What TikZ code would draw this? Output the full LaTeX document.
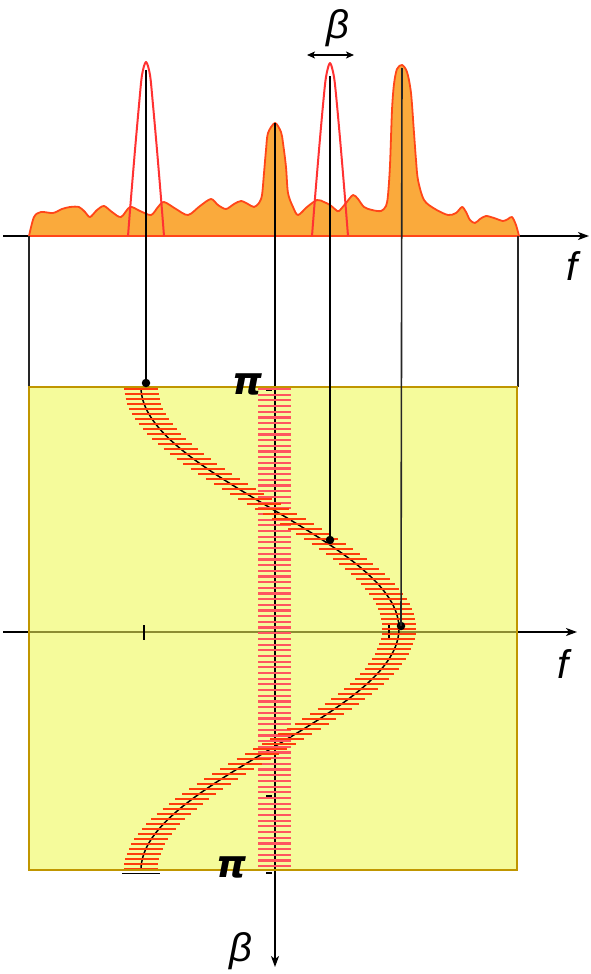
\documentclass[tikz,border=0pt]{standalone}
\usepackage{fontspec}
\setmainfont{Liberation Sans}
\newfontfamily\pifont{DejaVu Sans}
\usetikzlibrary{arrows.meta}
\definecolor{specfill}{RGB}{250,170,60}
\definecolor{specline}{RGB}{255,70,25}
\definecolor{peakred}{RGB}{255,50,50}
\definecolor{boxfill}{RGB}{245,251,155}
\definecolor{boxedge}{RGB}{192,150,0}
\definecolor{olive}{RGB}{140,140,50}
\definecolor{hatchc}{RGB}{255,60,10}
\definecolor{bandc}{RGB}{255,85,95}
\tikzset{
  axis/.style={line width=1.6pt,-{Stealth[length=11pt,width=8pt,inset=3pt]}},
  peakline/.style={line width=2.2pt,black},
  thinline/.style={line width=1.6pt,black!85},
  hatch/.style={line width=2.2pt,hatchc},
  bandhatch/.style={line width=2.2pt,bandc},
  dotst/.style={circle,fill=black,inner sep=0pt,minimum size=8.5pt},
  lbl/.style={font=\fontsize{40}{40}\selectfont\itshape,inner sep=0pt},
  pilbl/.style={font=\pifont\fontsize{38}{38}\selectfont\bfseries\itshape,inner sep=0pt},
}
\begin{document}
\begin{tikzpicture}[x=1pt,y=-1pt]
\useasboundingbox (0,0) rectangle (590,974);
% top axis
\coordinate (ta0) at (3,236);
\coordinate (ta1) at (589,236);
\draw[axis] (ta0) -- (ta1);
% spectrum
\draw[specline,line width=1.8pt,fill=specfill,line join=round]
  plot[smooth,tension=0.5] coordinates {
  (29,236)(34,217)(41,212)(53,213)(62,209)(70,207)(79,207)(85,212)(90,217)(97,210)(104,206)(112,212)(121,217)(130,207)(140,211)(151,215)(158,207)(164,202)(176,209)(188,215)(200,206)(211,199)(218,205)(226,209)(234,204)(241,201)(248,204)(254,207)(259,203)(262,195)(264,173)(266,150)(268,133)(275,123)(281,132)(283,143)(286,167)(288,193)(293,207)(298,215)(307,207)(317,200)(324,202)(330,205)(336,210)(339,211)(346,203)(353,195)(358,199)(364,207)(372,210)(381,211)(386,206)(388,195)(390,165)(392,110)(394,84)(397,69)(402,65)(407,72)(411,93)(414,133)(416,160)(418,180)(424,200)(435,209)(448,215)(456,213)(462,207)(466,212)(470,220)(475,223)(480,219)(486,216)(494,218)(503,221)(508,219)(512,217)(516,225)(519,236)} -- cycle;
\draw[specline,line width=2pt] (29,236) -- (519,236);
% red peaks
\draw[peakred,line width=2pt,line join=round] plot[smooth,tension=0.5] coordinates {(128,236)(131,198)(135,150)(139,105)(142,75)(146,62)(150,75)(153,105)(157,150)(161,198)(164,236)};
\draw[peakred,line width=2pt,line join=round] plot[smooth,tension=0.5] coordinates {(312,236)(315,198)(319,150)(323,105)(326,77)(330,63)(334,77)(337,105)(341,150)(345,198)(348,236)};
% edge lines
\coordinate (el0) at (29,236); \coordinate (el1) at (29,387);
\coordinate (er0) at (518,236); \coordinate (er1) at (518,387);
\draw[thinline] (el0) -- (el1);
\draw[thinline] (er0) -- (er1);
% yellow box
\fill[boxfill] (29,387) rectangle (517,870);
% bottom axis
\coordinate (ba0) at (3,632);
\coordinate (ba1) at (577,632);
\draw[axis] (ba0) -- (ba1);
\draw[olive,line width=1.8pt] (30,632) -- (516,632);
% ticks
\draw[black,line width=1.4pt] (144,625) -- (144,640);
\draw[black,line width=1.4pt] (389,623) -- (389,638);
% curve
\draw[black,line width=1.5pt] plot[domain=387:870,samples=120,variable=\t] ({270+129*cos((\t-628.5)*0.745342)},\t);
% center line
\coordinate (cl0) at (275,123);
\coordinate (cl1) at (275,967);
\draw[line width=1.6pt,-{Stealth[length=11pt,width=8pt,inset=3pt]}] (cl0) -- (cl1);
\draw[line width=1.2pt] (266,390) -- (272,390);
\draw[line width=1.2pt] (266,796) -- (272,796);
% band hatches
\foreach \k in {0,...,84}{
  \pgfmathsetmacro\yy{389+\k*5.68}
  \draw[bandhatch] (258,\yy) -- (291,\yy);
}
% curve hatches
\foreach \k in {0,...,96}{
  \pgfmathsetmacro\yy{389+\k*5.0}
  \pgfmathsetmacro\xx{270+129*cos((\yy-628.5)*0.745342)}
  \draw[hatch] (\xx-17,\yy) -- (\xx+17,\yy);
}
\draw[line width=1.6pt] (122,873.5) -- (160,873.5);
\draw[line width=1.2pt] (266,873) -- (272,873);
% box border
\draw[boxedge,line width=2pt] (29,387) rectangle (517,870);
% peak lines and dots
\node[dotst] (d1) at (146,383) {};
\node[dotst] (d2) at (330,540) {};
\node[dotst] (d3) at (401,626) {};
\coordinate (p1) at (146,70);
\coordinate (p2) at (330,76);
\coordinate (p3) at (402,68);
\draw[peakline] (p1) -- (d1.center);
\draw[peakline] (p2) -- (d2.center);
\draw[thinline] (p3) -- (d3.center);
% beta width arrow
\coordinate (bw0) at (307,55);
\coordinate (bw1) at (354,55);
\draw[line width=1.5pt,{Stealth[length=8pt,width=7pt,inset=2pt]}-{Stealth[length=8pt,width=7pt,inset=2pt]}] (bw0) -- (bw1);
% labels
\node[lbl] (bt) at (338,28) {β};
\node[lbl] (f1) at (572,266) {f};
\node[lbl] (f2) at (563,664) {f};
\node[lbl] (bb) at (241,951) {β};
\node[pilbl] (pi1) at (248,384) {π};
\node[pilbl] (pi2) at (232,867) {π};
\end{tikzpicture}
\end{document}
